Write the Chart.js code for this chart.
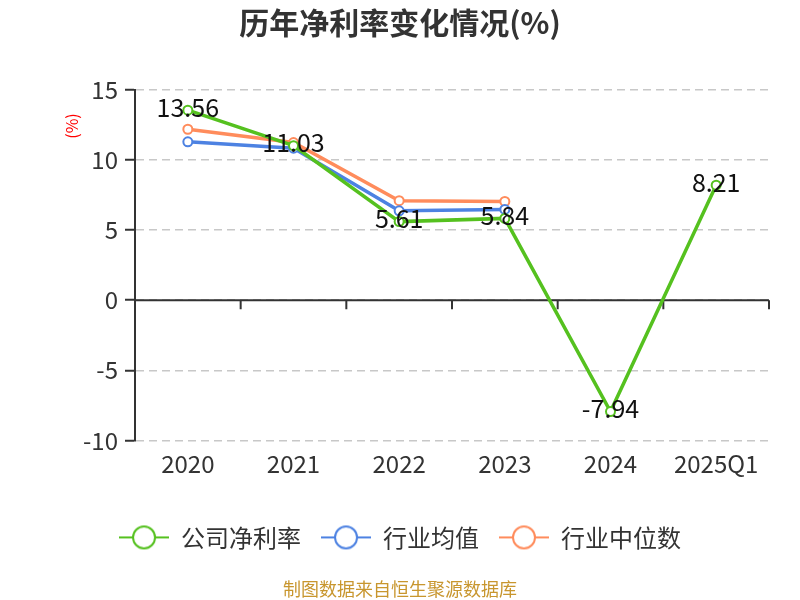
<!DOCTYPE html>
<html>
<head>
<meta charset="utf-8">
<script src="https://cdn.jsdelivr.net/npm/chart.js@4/dist/chart.umd.min.js"></script>
<style>
html,body{margin:0;padding:0;background:#fff;}
#wrap{width:800px;height:600px;}
</style>
</head>
<body>
<div id="wrap"><canvas id="c" width="800" height="600"></canvas></div>
<script>
const categories = ['2020', '2021', '2022', '2023', '2024', '2025Q1'];
const companyNetMargin = [13.56, 11.03, 5.61, 5.84, -7.94, 8.21];
const industryAverage = [11.30, 10.85, 6.38, 6.48, null, null];
const industryMedian = [12.20, 11.25, 7.10, 7.05, null, null];
const yTicks = [-10, -5, 0, 5, 10, 15];

const FONT = '"Noto Sans CJK SC", "Noto Sans", sans-serif';
const GREEN = '#55c11f', BLUE = '#4d82e2', ORANGE = '#ff8c5c';

function legendMarker(color) {
  const cv = document.createElement('canvas');
  cv.width = 50; cv.height = 26;
  const g = cv.getContext('2d');
  g.strokeStyle = color; g.lineWidth = 2;
  g.beginPath(); g.moveTo(0, 13); g.lineTo(50, 13); g.stroke();
  g.beginPath(); g.arc(25, 13, 11, 0, Math.PI * 2);
  g.fillStyle = '#fff'; g.fill(); g.stroke();
  return cv;
}

const markers = [legendMarker(GREEN), legendMarker(BLUE), legendMarker(ORANGE)];

const decorPlugin = {
  id: 'decor',
  beforeDatasetsDraw(chart) {
    const ctx = chart.ctx, x = chart.scales.x, y = chart.scales.y;
    const y0 = y.getPixelForValue(0);
    ctx.save();
    ctx.setLineDash([]);
    ctx.strokeStyle = '#333';
    ctx.lineWidth = 2;
    ctx.beginPath();
    ctx.moveTo(x.left, y0); ctx.lineTo(x.right, y0);
    const n = categories.length;
    for (let i = 1; i <= n; i++) {
      let bx = i < n ? (x.getPixelForTick(i - 1) + x.getPixelForTick(i)) / 2 : x.right;
      ctx.moveTo(bx, y0); ctx.lineTo(bx, y0 + 9);
    }
    ctx.stroke();
    // solid left axis line
    ctx.beginPath();
    ctx.moveTo(x.left, y.top); ctx.lineTo(x.left, y.bottom);
    ctx.stroke();
    ctx.restore();
  },
  afterDatasetsDraw(chart) {
    const ctx = chart.ctx;
    const meta = chart.getDatasetMeta(0);
    ctx.save();
    ctx.font = '25px ' + FONT;
    ctx.fillStyle = '#111';
    ctx.textAlign = 'center';
    ctx.textBaseline = 'middle';
    meta.data.forEach((pt, i) => {
      const v = companyNetMargin[i];
      if (v === null) return;
      ctx.fillText(v.toFixed(2), pt.x, pt.y - 3);
    });
    // y axis unit label
    const y = chart.scales.y;
    ctx.translate(72, y.top + 36);
    ctx.rotate(-Math.PI / 2);
    ctx.font = '16px ' + FONT;
    ctx.fillStyle = '#f00';
    ctx.fillText('(%)', 0, 0);
    ctx.restore();
  }
};

const pointCommon = {
  pointRadius: 4.5,
  pointHoverRadius: 4.5,
  pointBackgroundColor: '#fff',
  pointBorderWidth: 2,
  borderWidth: 3.5,
  tension: 0,
  spanGaps: false
};

new Chart(document.getElementById('c'), {
  type: 'line',
  data: {
    labels: categories,
    datasets: [
      Object.assign({ label: '公司净利率', data: companyNetMargin, borderColor: GREEN, pointBorderColor: GREEN, order: 0 }, pointCommon),
      Object.assign({ label: '行业均值', data: industryAverage, borderColor: BLUE, pointBorderColor: BLUE, order: 1 }, pointCommon),
      Object.assign({ label: '行业中位数', data: industryMedian, borderColor: ORANGE, pointBorderColor: ORANGE, order: 2 }, pointCommon)
    ]
  },
  options: {
    responsive: false,
    animation: false,
    devicePixelRatio: 1,
    layout: { padding: { left: 31, right: 31, top: 0, bottom: 0 } },
    plugins: {
      title: {
        display: true,
        text: '历年净利率变化情况(%)',
        color: '#333',
        font: { family: FONT, size: 30, weight: 'bold' },
        padding: { top: 5, bottom: 49 }
      },
      subtitle: {
        display: true,
        position: 'bottom',
        text: '制图数据来自恒生聚源数据库',
        color: '#c8962e',
        font: { family: FONT, size: 18 },
        padding: { top: 19, bottom: 0 }
      },
      legend: {
        position: 'bottom',
        labels: {
          usePointStyle: true,
          pointStyleWidth: 50,
          padding: 20,
          color: '#333',
          font: { family: FONT, size: 24 },
          generateLabels(chart) {
            return chart.data.datasets.map((ds, i) => ({
              text: ds.label,
              pointStyle: markers[i],
              fillStyle: '#fff',
              strokeStyle: ds.borderColor,
              lineWidth: 0,
              fontColor: '#333',
              hidden: false,
              datasetIndex: i
            }));
          }
        }
      },
      tooltip: { enabled: false }
    },
    scales: {
      x: {
        offset: true,
        grid: { display: false, drawTicks: false },
        border: { display: false },
        ticks: { color: '#333', padding: 9, font: { family: FONT, size: 24 } },
        afterFit(s) { s.height = 65; }
      },
      y: {
        min: -10,
        max: 15,
        afterBuildTicks(s) { s.ticks = yTicks.map(v => ({ value: v })); },
        grid: {
          color: '#c8c8c8',
          lineWidth: 1.5,
          tickColor: '#333',
          tickLength: 10,
          tickWidth: 2,
          tickBorderDash: [0, 0]
        },
        border: { display: true, color: '#333', width: 2, dash: [8, 5] },
        ticks: { color: '#333', padding: 7, font: { family: FONT, size: 24 } },
        afterFit(s) { s.width = 104; }
      }
    }
  },
  plugins: [decorPlugin]
});
</script>
</body>
</html>
